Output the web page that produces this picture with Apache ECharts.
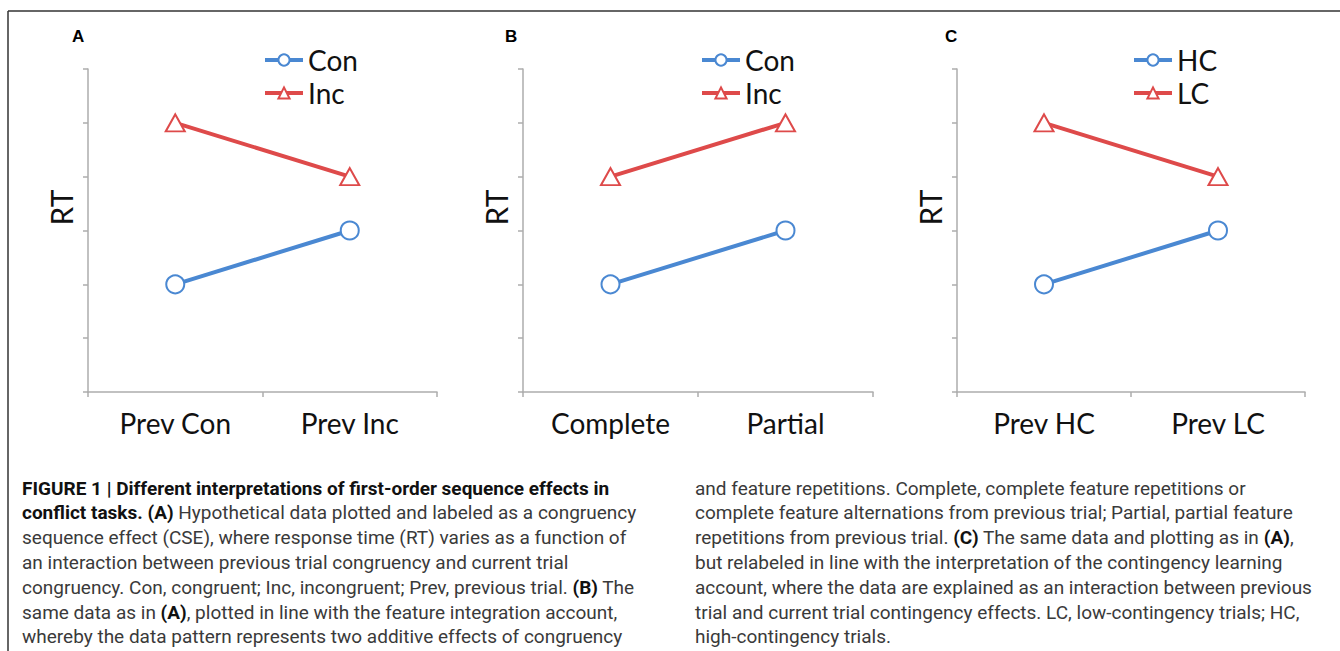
<!DOCTYPE html>
<html>
<head>
<meta charset="utf-8">
<script src="https://cdn.jsdelivr.net/npm/echarts@6/dist/echarts.min.js"></script>
<style>
  html, body { margin: 0; padding: 0; background: #fff; }
  #main { width: 1340px; height: 651px; }
</style>
</head>
<body>
<div id="main"></div>
<script>
// categories of the three panels
var catsA = ['Prev Con', 'Prev Inc'];
var catsB = ['Complete', 'Partial'];
var catsC = ['Prev HC', 'Prev LC'];
// hypothetical RT values (axis units, no labels)
var conA = [2, 3];
var incA = [5, 4];
var conB = [2, 3];
var incB = [4, 5];
var hcC = [2, 3];
var lcC = [5, 4];
// legend names
var namesA = ['Con', 'Inc'];
var namesC = ['HC', 'LC'];
var panelLetters = ['A', 'B', 'C'];

var blue = '#4A88D2';
var red = '#DE4A4A';
var axisGray = '#ADADAD';
var font = 'Lato';
var capFont = 'Roboto, "Liberation Sans", sans-serif';

// caption lines: [bold?, text] segments
var captionLeft = [
    [[1, 'FIGURE 1 | Different interpretations of first-order sequence effects in']],
    [[1, 'conflict tasks. (A)'], [0, ' Hypothetical data plotted and labeled as a congruency']],
    [[0, 'sequence effect (CSE), where response time (RT) varies as a function of']],
    [[0, 'an interaction between previous trial congruency and current trial']],
    [[0, 'congruency. Con, congruent; Inc, incongruent; Prev, previous trial. '], [1, '(B)'], [0, ' The']],
    [[0, 'same data as in '], [1, '(A)'], [0, ', plotted in line with the feature integration account,']],
    [[0, 'whereby the data pattern represents two additive effects of congruency']]
];
var captionRight = [
    [[0, 'and feature repetitions. Complete, complete feature repetitions or']],
    [[0, 'complete feature alternations from previous trial; Partial, partial feature']],
    [[0, 'repetitions from previous trial. '], [1, '(C)'], [0, ' The same data and plotting as in '], [1, '(A)'], [0, ',']],
    [[0, 'but relabeled in line with the interpretation of the contingency learning']],
    [[0, 'account, where the data are explained as an interaction between previous']],
    [[0, 'trial and current trial contingency effects. LC, low-contingency trials; HC,']],
    [[0, 'high-contingency trials.']]
];

var div = document.getElementById('main');
var myChart = echarts.init(div, null, { renderer: 'svg' });

// panel geometry
var grids = [
    { left: 88, top: 69, width: 349, height: 323 },
    { left: 523, top: 69, width: 350, height: 323 },
    { left: 957, top: 69, width: 348, height: 323 }
];
var legendLeft = [263, 700, 1132];
var letterX = [72, 505, 945];

function xAxisOf(i, cats) {
    return {
        type: 'category', gridIndex: i, data: cats, boundaryGap: true,
        axisLine: { lineStyle: { color: axisGray, width: 1.5 } },
        axisTick: { show: true, length: 5, lineStyle: { color: axisGray, width: 1.5 } },
        axisLabel: { color: '#111', fontSize: 28, fontFamily: font, margin: 17 },
        splitLine: { show: false }
    };
}
function yAxisOf(i) {
    return {
        type: 'value', gridIndex: i, min: 0, max: 6, interval: 1,
        name: 'RT', nameLocation: 'middle', nameRotate: 90, nameGap: 12,
        nameTextStyle: { color: '#111', fontSize: 30, fontFamily: font, padding: [0, 0, 0, 46] },
        axisLine: { show: true, lineStyle: { color: axisGray, width: 1.5 } },
        axisTick: { show: true, length: 5, lineStyle: { color: axisGray, width: 1.5 } },
        axisLabel: { show: false },
        splitLine: { show: false }
    };
}
function lineOf(name, i, data, color, symbol, size) {
    return {
        name: name, type: 'line', xAxisIndex: i, yAxisIndex: i, data: data,
        symbol: symbol, symbolSize: size, showAllSymbol: true,
        lineStyle: { color: color, width: 4 },
        itemStyle: { color: color, borderWidth: 1.6 },
        emphasis: { disabled: true },
        z: 3
    };
}
function legendOf(i, names) {
    return {
        orient: 'vertical', left: legendLeft[i], top: 46, padding: 0, data: names,
        itemWidth: 38, itemHeight: 14, itemGap: 5, itemTextGap: 7,
        lineStyle: { width: 4 },
        textStyle: { color: '#111', fontSize: 28, fontFamily: font },
        selectedMode: false
    };
}

var graphics = [
    { type: 'line', shape: { x1: 8, y1: 11, x2: 1340, y2: 11 }, style: { stroke: '#333', lineWidth: 1.5 } },
    { type: 'line', shape: { x1: 8, y1: 11, x2: 8, y2: 651 }, style: { stroke: '#333', lineWidth: 1.5 } }
];
panelLetters.forEach(function (t, i) {
    graphics.push({
        type: 'text', left: letterX[i], top: 28,
        style: { text: t, font: 'bold 17px "Liberation Sans", Arial', fill: '#000' }
    });
});
function captionGraphics(lines, x) {
    lines.forEach(function (segs, k) {
        var txt = segs.map(function (s) {
            return '{' + (s[0] ? 'b' : 'r') + '|' + s[1] + '}';
        }).join('');
        graphics.push({
            type: 'text', x: x, y: 488 + k * 24.8,
            style: {
                text: txt, verticalAlign: 'middle',
                rich: {
                    r: { fontFamily: capFont, fontSize: 19, fill: '#3a3a3a' },
                    b: { fontFamily: capFont, fontSize: 19, fontWeight: 'bold', fill: '#111' }
                }
            }
        });
    });
}
captionGraphics(captionLeft, 22);
captionGraphics(captionRight, 695);

var option = {
    animation: false,
    backgroundColor: '#fff',
    grid: grids,
    xAxis: [xAxisOf(0, catsA), xAxisOf(1, catsB), xAxisOf(2, catsC)],
    yAxis: [yAxisOf(0), yAxisOf(1), yAxisOf(2)],
    legend: [legendOf(0, namesA), legendOf(1, namesA), legendOf(2, namesC)],
    series: [
        lineOf(namesA[0], 0, conA, blue, 'emptyCircle', 18),
        lineOf(namesA[1], 0, incA, red, 'emptyTriangle', [19, 17]),
        lineOf(namesA[0], 1, conB, blue, 'emptyCircle', 18),
        lineOf(namesA[1], 1, incB, red, 'emptyTriangle', [19, 17]),
        lineOf(namesC[0], 2, hcC, blue, 'emptyCircle', 18),
        lineOf(namesC[1], 2, lcC, red, 'emptyTriangle', [19, 17])
    ],
    graphic: graphics
};
myChart.setOption(option);
</script>
</body>
</html>
